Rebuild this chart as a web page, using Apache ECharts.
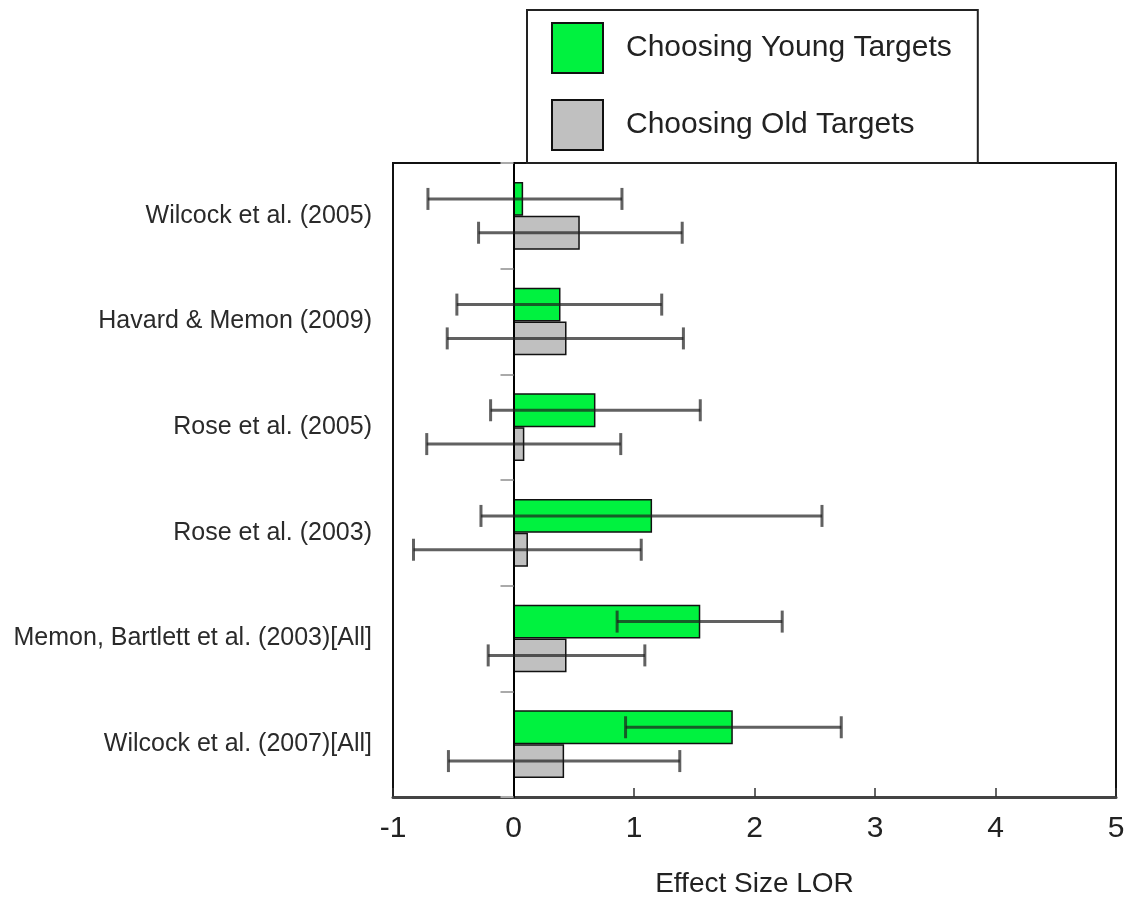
<!DOCTYPE html>
<html>
<head>
<meta charset="utf-8">
<script src="https://cdn.jsdelivr.net/npm/echarts@6/dist/echarts.min.js"></script>
<style>
  html, body { margin: 0; padding: 0; background: #fff; }
  #chart { width: 1128px; height: 905px; }
</style>
</head>
<body>
<div id="chart"></div>
<script>
// Studies, top to bottom
const categories = [
  'Wilcock et al. (2005)',
  'Havard & Memon (2009)',
  'Rose et al. (2005)',
  'Rose et al. (2003)',
  'Memon, Bartlett et al. (2003)[All]',
  'Wilcock et al. (2007)[All]'
];
// Log odds ratio and 95% interval, choosing young targets
const youngLOR  = [0.08, 0.39, 0.68, 1.15, 1.55, 1.82];
const youngLow  = [-0.71, -0.47, -0.19, -0.27, 0.86, 0.93];
const youngHigh = [0.90, 1.23, 1.55, 2.56, 2.23, 2.72];
// Log odds ratio and 95% interval, choosing old targets
const oldLOR  = [0.55, 0.44, 0.09, 0.12, 0.44, 0.42];
const oldLow  = [-0.29, -0.55, -0.72, -0.83, -0.21, -0.54];
const oldHigh = [1.40, 1.41, 0.89, 1.06, 1.09, 1.38];
// Value axis ticks
const xTicks = [-1, 0, 1, 2, 3, 4, 5];

const FONT = "'Liberation Sans', Arial, Helvetica, sans-serif";
const BAR_FRAC = 0.32;
const GRID = { left: 393, right: 12, top: 163, bottom: 108 };
const gridWidth = 1128 - GRID.left - GRID.right;
const zeroOffset = gridWidth * (0 - xTicks[0]) / (xTicks[xTicks.length - 1] - xTicks[0]);

function errorRenderer(sign) {
  return function (params, api) {
    const cat = api.value(0);
    const band = api.size([0, 1])[1];
    const lo = api.coord([api.value(1), cat]);
    const hi = api.coord([api.value(2), cat]);
    const y = lo[1] + sign * band * BAR_FRAC / 2;
    const cap = 11;
    const style = { stroke: 'rgba(30,30,30,0.7)', lineWidth: 3 };
    return {
      type: 'group',
      children: [
        { type: 'line', shape: { x1: lo[0], y1: y, x2: hi[0], y2: y }, style: style },
        { type: 'line', shape: { x1: lo[0], y1: y - cap, x2: lo[0], y2: y + cap }, style: style },
        { type: 'line', shape: { x1: hi[0], y1: y - cap, x2: hi[0], y2: y + cap }, style: style }
      ]
    };
  };
}

const chart = echarts.init(document.getElementById('chart'), null, { renderer: 'canvas' });
chart.setOption({
  animation: false,
  backgroundColor: '#fff',
  textStyle: { fontFamily: FONT },
  grid: Object.assign({
    show: true, borderColor: '#111', borderWidth: 2, backgroundColor: '#fff',
    containLabel: false, outerBoundsMode: 'none'
  }, GRID),
  legend: {
    data: ['Choosing Young Targets', 'Choosing Old Targets'],
    orient: 'vertical',
    left: 527,
    top: 10,
    padding: [12, 26, 12, 24],
    itemWidth: 51,
    itemHeight: 50,
    itemGap: 25,
    icon: 'rect',
    backgroundColor: '#fff',
    borderColor: '#222',
    borderWidth: 2,
    textStyle: { fontFamily: FONT, fontSize: 30, color: '#222', padding: [0, 0, 0, 18] }
  },
  xAxis: {
    type: 'value',
    min: xTicks[0],
    max: xTicks[xTicks.length - 1],
    interval: 1,
    name: 'Effect Size LOR',
    nameLocation: 'middle',
    nameGap: 73,
    nameTextStyle: { fontFamily: FONT, fontSize: 28, color: '#222' },
    axisLine: { show: true, onZero: false, lineStyle: { color: '#444', width: 3 } },
    axisTick: { show: true, inside: true, length: 9, lineStyle: { color: '#333', width: 1.5 } },
    axisLabel: { fontFamily: FONT, fontSize: 30, color: '#222', margin: 17 },
    splitLine: { show: false }
  },
  yAxis: [
    {
      type: 'category',
      data: categories,
      inverse: true,
      position: 'left',
      axisLine: { show: false },
      axisTick: { show: false },
      axisLabel: { fontFamily: FONT, fontSize: 25, color: '#2a2a2a', margin: 21 },
      splitLine: { show: false }
    },
    {
      // zero reference line with study separators
      type: 'category',
      data: categories,
      inverse: true,
      position: 'left',
      offset: -zeroOffset,
      axisLine: { show: true, onZero: false, lineStyle: { color: '#000', width: 2 } },
      axisTick: { show: true, length: 13, lineStyle: { color: '#aaa', width: 2 } },
      axisLabel: { show: false },
      splitLine: { show: false },
      z: 5
    }
  ],
  series: [
    {
      name: 'Choosing Young Targets',
      type: 'bar',
      yAxisIndex: 0,
      data: youngLOR,
      barWidth: (BAR_FRAC * 100) + '%',
      barGap: '0%',
      itemStyle: { color: '#00f23f', borderColor: '#111', borderWidth: 1.5 }
    },
    {
      name: 'Choosing Old Targets',
      type: 'bar',
      yAxisIndex: 0,
      data: oldLOR,
      barWidth: (BAR_FRAC * 100) + '%',
      barGap: '0%',
      itemStyle: { color: '#c0c0c0', borderColor: '#111', borderWidth: 1.5 }
    },
    {
      name: 'young-ci',
      type: 'custom',
      yAxisIndex: 0,
      renderItem: errorRenderer(-1),
      encode: { x: [1, 2], y: 0 },
      data: categories.map((c, i) => [i, youngLow[i], youngHigh[i]]),
      z: 6
    },
    {
      name: 'old-ci',
      type: 'custom',
      yAxisIndex: 0,
      renderItem: errorRenderer(1),
      encode: { x: [1, 2], y: 0 },
      data: categories.map((c, i) => [i, oldLow[i], oldHigh[i]]),
      z: 6
    }
  ]
});
</script>
</body>
</html>
